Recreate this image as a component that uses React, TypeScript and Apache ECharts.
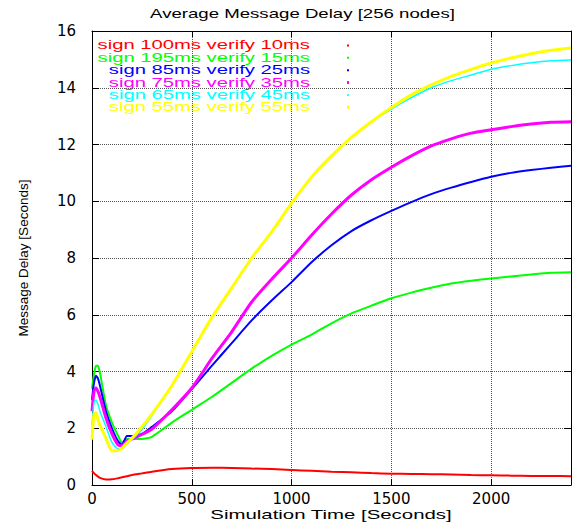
import React, { useEffect, useRef } from "react";
import * as echarts from "echarts";

const TITLE = "Average Message Delay [256 nodes]";
const X_NAME = "Simulation Time [Seconds]";
const Y_NAME = "Message Delay [Seconds]";

const TIME = [0, 10, 20, 30, 40, 70, 100, 130, 150, 175, 200, 250, 300, 400, 500, 600, 700, 800, 900, 1000, 1100, 1200, 1300, 1400, 1500, 1600, 1700, 1800, 1900, 2000, 2100, 2200, 2300, 2400];

const SERIES_NAMES = [
  "sign 100ms verify 10ms",
  "sign 195ms verify 15ms",
  "sign 85ms verify 25ms",
  "sign 75ms verify 35ms",
  "sign 65ms verify 45ms",
  "sign 55ms verify 55ms",
];

const RED = [0.5, 0.42, 0.35, 0.3, 0.25, 0.19, 0.2, 0.24, 0.27, 0.31, 0.35, 0.41, 0.47, 0.56, 0.6, 0.61, 0.6, 0.58, 0.56, 0.53, 0.5, 0.47, 0.45, 0.42, 0.4, 0.39, 0.38, 0.37, 0.35, 0.34, 0.33, 0.32, 0.32, 0.31];
const GREEN = [3.4, 3.9, 4.2, 4.2, 3.95, 2.8, 2.2, 1.75, 1.5, 1.62, 1.62, 1.62, 1.7, 2.2, 2.65, 3.1, 3.6, 4.1, 4.55, 4.95, 5.3, 5.7, 6.05, 6.32, 6.58, 6.78, 6.95, 7.1, 7.2, 7.28, 7.35, 7.42, 7.48, 7.5];
const BLUE = [3.0, 3.6, 3.85, 3.75, 3.5, 2.6, 2.0, 1.55, 1.42, 1.73, 1.73, 1.8, 2.05, 2.6, 3.38, 4.2, 5.0, 5.8, 6.5, 7.15, 7.85, 8.45, 8.95, 9.33, 9.66, 9.97, 10.25, 10.48, 10.68, 10.86, 11.0, 11.1, 11.18, 11.25];
const MAGENTA = [2.6, 3.3, 3.42, 3.3, 3.1, 2.36, 1.8, 1.42, 1.38, 1.55, 1.62, 1.78, 1.97, 2.65, 3.42, 4.45, 5.4, 6.45, 7.25, 8.0, 8.8, 9.55, 10.22, 10.76, 11.2, 11.6, 11.95, 12.2, 12.4, 12.52, 12.63, 12.72, 12.78, 12.8];
const CYAN = [2.1, 2.9, 3.0, 2.85, 2.6, 2.06, 1.5, 1.28, 1.28, 1.45, 1.6, 1.95, 2.45, 3.5, 4.7, 5.9, 6.95, 8.0, 8.92, 9.93, 10.85, 11.6, 12.25, 12.8, 13.25, 13.65, 14.0, 14.25, 14.45, 14.65, 14.78, 14.88, 14.95, 14.98];
const YELLOW = [1.6, 2.5, 2.55, 2.3, 2.1, 1.65, 1.2, 1.22, 1.3, 1.48, 1.65, 2.05, 2.5, 3.5, 4.7, 5.9, 6.95, 8.0, 8.92, 9.93, 10.85, 11.6, 12.25, 12.8, 13.3, 13.75, 14.1, 14.4, 14.65, 14.87, 15.05, 15.2, 15.32, 15.4];

const SERIES_VALUES = [RED, GREEN, BLUE, MAGENTA, CYAN, YELLOW];
const SERIES_COLORS = ["#ff0000", "#00ff00", "#0000ff", "#ff00ff", "#00ffff", "#ffff00"];
const SERIES_WIDTHS = [2, 2, 2, 3, 1.5, 3];

const X_MIN = 0;
const X_MAX = 2400;
const X_INTERVAL = 500;
const Y_MIN = 0;
const Y_MAX = 16;
const Y_INTERVAL = 2;

function measure(text: string, font: string): number {
  const ctx = document.createElement("canvas").getContext("2d");
  if (!ctx) return text.length * 6;
  ctx.font = font;
  return ctx.measureText(text).width;
}

export default function App() {
  const ref = useRef<HTMLDivElement>(null);

  useEffect(() => {
    if (!ref.current) return;
    const chart = echarts.init(ref.current, null, { renderer: "svg" });

    const FONT = "Liberation Sans";
    const titleSize = 12;
    const legendSize = 12;
    const xNameSize = 12.5;
    const titleScale = 305 / measure(TITLE, `${titleSize}px "${FONT}"`);
    const legendScale = 212.7 / measure(SERIES_NAMES[0], `${legendSize}px "${FONT}"`);
    const xNameScale = 242 / measure(X_NAME, `${xNameSize}px "${FONT}"`);

    const graphics: any[] = [
      {
        type: "text",
        x: 302.5,
        y: 13.5,
        scaleX: titleScale,
        style: {
          text: TITLE,
          fill: "#000",
          fontSize: titleSize,
          fontFamily: FONT,
          textAlign: "center",
          textVerticalAlign: "middle",
          align: "center",
          verticalAlign: "middle",
        },
      },
      {
        type: "text",
        x: 331,
        y: 515,
        scaleX: xNameScale,
        style: {
          text: X_NAME,
          fill: "#000",
          fontSize: xNameSize,
          fontFamily: FONT,
          textAlign: "center",
          textVerticalAlign: "middle",
          align: "center",
          verticalAlign: "middle",
        },
      },
    ];

    SERIES_NAMES.forEach((name, i) => {
      const rowY = 45.5 + i * 12.35;
      graphics.push({
        type: "text",
        x: 310,
        y: rowY,
        scaleX: legendScale,
        style: {
          text: name,
          fill: SERIES_COLORS[i],
          fontSize: legendSize,
          fontFamily: FONT,
          textAlign: "right",
          textVerticalAlign: "middle",
          align: "right",
          verticalAlign: "middle",
        },
      });
      graphics.push({
        type: "rect",
        shape: { x: 347, y: rowY - SERIES_WIDTHS[i] / 2, width: 2, height: SERIES_WIDTHS[i] },
        style: { fill: SERIES_COLORS[i] },
      });
    });

    const axisLabelStyle = {
      color: "#000",
      fontFamily: "DejaVu Sans",
      fontSize: 15,
      formatter: (v: number) => String(v),
    };

    const gridLine = () => ({ show: true, lineStyle: { color: "#555", type: "dotted", width: 1 } });
    const tick = (len: number) => ({ show: true, inside: true, length: len, lineStyle: { color: "#000", width: 1 } });

    const option: any = {
      animation: false,
      backgroundColor: "#fff",
      grid: { left: 92, right: 1, top: 31, bottom: 41, containLabel: false },
      graphic: graphics,
      xAxis: [
        {
          type: "value",
          min: X_MIN,
          max: X_MAX,
          interval: X_INTERVAL,
          position: "bottom",
          axisLine: { show: true, onZero: false, lineStyle: { color: "#000", width: 1 } },
          axisTick: tick(6),
          axisLabel: { ...axisLabelStyle, margin: 6, showMaxLabel: false },
          splitLine: gridLine(),
        },
        {
          type: "value",
          min: X_MIN,
          max: X_MAX,
          interval: X_INTERVAL,
          position: "top",
          axisLine: { show: true, onZero: false, lineStyle: { color: "#000", width: 1 } },
          axisTick: tick(6),
          axisLabel: { show: false },
          splitLine: { show: false },
        },
      ],
      yAxis: [
        {
          type: "value",
          min: Y_MIN,
          max: Y_MAX,
          interval: Y_INTERVAL,
          position: "left",
          name: Y_NAME,
          nameLocation: "middle",
          nameGap: 62,
          nameTextStyle: { color: "#000", fontFamily: FONT, fontSize: 13.5 },
          axisLine: { show: true, onZero: false, lineStyle: { color: "#000", width: 1 } },
          axisTick: tick(7),
          axisLabel: { ...axisLabelStyle, margin: 16 },
          splitLine: gridLine(),
        },
        {
          type: "value",
          min: Y_MIN,
          max: Y_MAX,
          interval: Y_INTERVAL,
          position: "right",
          axisLine: { show: true, onZero: false, lineStyle: { color: "#000", width: 1 } },
          axisTick: tick(7),
          axisLabel: { show: false },
          splitLine: { show: false },
        },
      ],
      series: SERIES_NAMES.map((name, i) => ({
        name,
        type: "line",
        xAxisIndex: 0,
        yAxisIndex: 0,
        showSymbol: false,
        symbol: "none",
        smooth: 0.2,
        data: TIME.map((t, k) => [t, SERIES_VALUES[i][k]]),
        lineStyle: { color: SERIES_COLORS[i], width: SERIES_WIDTHS[i] },
        itemStyle: { color: SERIES_COLORS[i] },
        z: 2 + i,
      })),
    };

    chart.setOption(option);
    return () => {
      chart.dispose();
    };
  }, []);

  return <div ref={ref} style={{ width: 572, height: 526, position: "absolute", left: 0, top: 0 }} />;
}
